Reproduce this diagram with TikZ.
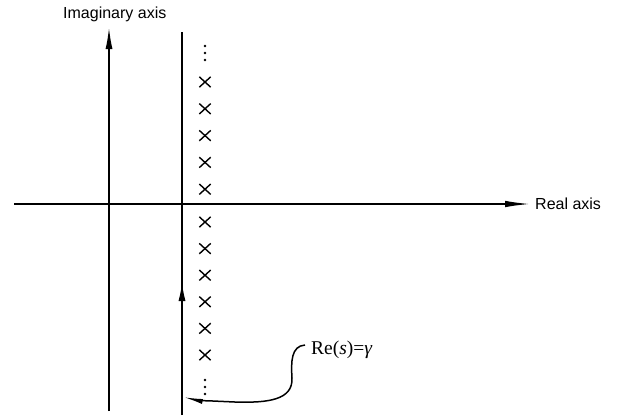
\documentclass[tikz,border=0pt]{standalone}
\usepackage{fontspec}
\setmainfont{Liberation Serif}
\newfontfamily\axfont{Liberation Sans}
\usetikzlibrary{arrows.meta,shapes.misc}
\begin{document}
\begin{tikzpicture}[x=1pt,y=-1pt,
  axisline/.style={line width=1.8pt},
  contourline/.style={line width=2.8pt},
  axistip/.style={-{Latex[length=22pt,width=7pt]}},
  pole/.style={cross out,draw,line width=1.4pt,minimum width=10pt,minimum height=9pt,inner sep=0pt},
  vdot/.style={circle,fill,inner sep=0pt,minimum size=2.6pt},
  axlabel/.style={font=\axfont\fontsize{16}{18}\selectfont,inner sep=0pt},
  curvelabel/.style={font=\fontsize{19.5}{22}\selectfont,inner sep=0pt}]
\useasboundingbox (0,0) rectangle (617,416);
% axes
\coordinate (ib) at (109,411);
\coordinate (it) at (109,27);
\coordinate (rl) at (14,204);
\coordinate (rr) at (531,204);
\draw[axisline,axistip] (ib) -- (it);
\draw[axisline,-{Latex[length=26pt,width=6.5pt]}] (rl) -- (rr);
\node[axlabel,anchor=base west] (ilab) at (63,18) {Imaginary axis};
\node[axlabel,anchor=west] (rlab) at (535,204) {Real axis};
% contour line
\coordinate (cb) at (182,415);
\coordinate (ca) at (182,320);
\coordinate (cm) at (182,283);
\coordinate (ct) at (182,32);
\draw[contourline] (cb) -- (ct);
\draw[line width=1pt,-{Latex[length=18pt,width=7pt]}] (ca) -- (cm);
% poles
\foreach \k in {0,...,4}{
  \node[pole] (pa\k) at (205,{82+26.8*\k}) {};
}
\foreach \k in {0,...,5}{
  \node[pole] (pb\k) at (205,{222+26.6*\k}) {};
}
% dots
\foreach \y [count=\i] in {46,53,60}{
  \node[vdot] (dt\i) at (205,\y) {};
}
\foreach \y [count=\i] in {380,387,394}{
  \node[vdot] (db\i) at (205,\y) {};
}
% label and curve
\node[curvelabel,anchor=base west] (clab) at (311,354) {Re(\textit{s})=\textit{γ}};
\coordinate (c0) at (305,345);
\coordinate (c1) at (183,397);
\draw[line width=1.5pt,-{Latex[length=20pt,width=5pt]}] (c0)
  .. controls (291,346) and (291,362) .. (292,378)
  .. controls (293,400) and (268,403) .. (235,402)
  .. controls (212,401) and (196,400) .. (c1);
\end{tikzpicture}
\end{document}
